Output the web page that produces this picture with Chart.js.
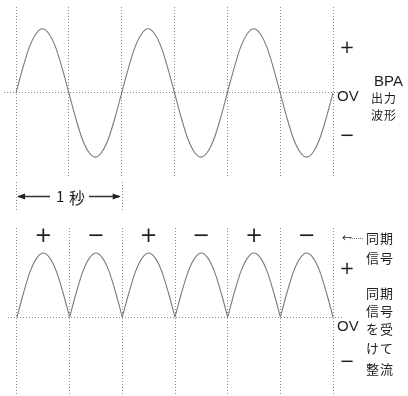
<!DOCTYPE html>
<html>
<head>
<meta charset="utf-8">
<script src="https://cdn.jsdelivr.net/npm/chart.js@4/dist/chart.umd.min.js"></script>
<style>
  html, body { margin: 0; padding: 0; background: #fff; }
  #wrap { position: relative; width: 408px; height: 396px; overflow: hidden; background: #fff; }
  canvas { position: absolute; left: 0; }
  .t { position: absolute; line-height: 1; white-space: pre; color: #1e1e1e; }
  .lat { font-family: "Liberation Sans", Arial, sans-serif; font-size: 15px; }
  .jp { font-family: "Noto Sans CJK JP", sans-serif; font-size: 12px; letter-spacing: 1px; }
  .sg { font-family: "DejaVu Sans", sans-serif; font-size: 18px; transform: translate(-50%, -50%); }
  .lead { position: absolute; left: 350px; top: 238px; width: 13px; border-top: 1px dotted #777; }
</style>
</head>
<body>
<div id="wrap">
  <canvas id="wave" width="408" height="220" style="top:0;width:408px;height:220px"></canvas>
  <canvas id="rect" width="408" height="176" style="top:220px;width:408px;height:176px"></canvas>

  <!-- BPA output waveform labels -->
  <div class="t sg" style="left:347px;top:47px">+</div>
  <div class="t lat" style="left:374px;top:73px">BPA</div>
  <div class="t lat" style="left:337px;top:88px">OV</div>
  <div class="t jp" style="left:371px;top:92px">出力</div>
  <div class="t jp" style="left:371px;top:109px">波形</div>
  <div class="t sg" style="left:347px;top:135px">−</div>

  <!-- one-second span -->
  <div class="t jp" style="left:56px;top:188px;font-size:15px">1</div>
  <div class="t jp" style="left:69px;top:189px;font-size:16px">秒</div>

  <!-- sync signal / rectified labels -->
  <div class="t jp" style="left:342px;top:233px;font-size:10px">←</div>
  <div class="lead"></div>
  <div class="t jp" style="left:366px;top:231px;font-size:13px">同期</div>
  <div class="t jp" style="left:366px;top:251px;font-size:13px">信号</div>
  <div class="t sg" style="left:347px;top:268px">+</div>
  <div class="t jp" style="left:366px;top:286px;font-size:13px">同期</div>
  <div class="t jp" style="left:366px;top:304px;font-size:13px">信号</div>
  <div class="t lat" style="left:337px;top:318px">OV</div>
  <div class="t jp" style="left:366px;top:322px;font-size:13px">を受</div>
  <div class="t jp" style="left:366px;top:341px;font-size:13px">けて</div>
  <div class="t jp" style="left:366px;top:362px;font-size:13px">整流</div>
  <div class="t sg" style="left:347px;top:361px">−</div>
</div>

<script>
// Sample times in seconds (1/16 s apart, three one-second cycles)
const times = [
  0, 0.0625, 0.125, 0.1875, 0.25, 0.3125, 0.375, 0.4375,
  0.5, 0.5625, 0.625, 0.6875, 0.75, 0.8125, 0.875, 0.9375,
  1, 1.0625, 1.125, 1.1875, 1.25, 1.3125, 1.375, 1.4375,
  1.5, 1.5625, 1.625, 1.6875, 1.75, 1.8125, 1.875, 1.9375,
  2, 2.0625, 2.125, 2.1875, 2.25, 2.3125, 2.375, 2.4375,
  2.5, 2.5625, 2.625, 2.6875, 2.75, 2.8125, 2.875, 2.9375,
  3
];

// BPA output waveform (relative amplitude)
const bpaWave = [
  0, 0.38, 0.71, 0.92, 1, 0.92, 0.71, 0.38,
  0, -0.38, -0.71, -0.92, -1, -0.92, -0.71, -0.38,
  0, 0.38, 0.71, 0.92, 1, 0.92, 0.71, 0.38,
  0, -0.38, -0.71, -0.92, -1, -0.92, -0.71, -0.38,
  0, 0.38, 0.71, 0.92, 1, 0.92, 0.71, 0.38,
  0, -0.38, -0.71, -0.92, -1, -0.92, -0.71, -0.38,
  0
];

// Waveform rectified by the sync signal
const rectifiedWave = [
  0, 0.38, 0.71, 0.92, 1, 0.92, 0.71, 0.38,
  0, 0.38, 0.71, 0.92, 1, 0.92, 0.71, 0.38,
  0, 0.38, 0.71, 0.92, 1, 0.92, 0.71, 0.38,
  0, 0.38, 0.71, 0.92, 1, 0.92, 0.71, 0.38,
  0, 0.38, 0.71, 0.92, 1, 0.92, 0.71, 0.38,
  0, 0.38, 0.71, 0.92, 1, 0.92, 0.71, 0.38,
  0
];

// Half-cycle divisions (grid) and the sync signal polarity per half-cycle
const gridTimes = [0, 0.5, 1, 1.5, 2, 2.5, 3];
const syncSigns = ['+', '−', '+', '−', '+', '−'];
const syncSignTimes = [0.25, 0.75, 1.25, 1.75, 2.25, 2.75];
const oneSecondSpan = [0, 1];

const zeroLine = [0];
const lineColor = '#7a7a7a';
const gridColor = '#8a8a8a';

function dottedScale(min, max, tickValues) {
  return {
    type: 'linear',
    min: min,
    max: max,
    afterBuildTicks(scale) { scale.ticks = tickValues.map(v => ({ value: v })); },
    ticks: { display: false },
    grid: { color: gridColor, lineWidth: 1, drawTicks: false },
    border: { display: false, dash: [1, 2] }
  };
}

function toPoints(xs, ys) { return xs.map((x, i) => ({ x: x, y: ys[i] })); }

const baseOptions = {
  responsive: false,
  animation: false,
  events: [],
  plugins: { legend: { display: false }, tooltip: { enabled: false } },
  elements: { point: { radius: 0 }, line: { borderWidth: 1.1, borderColor: lineColor } }
};

// Arrow marking one second under the top waveform
const spanPlugin = {
  id: 'oneSecond',
  afterDraw(chart) {
    const ctx = chart.ctx, xs = chart.scales.x;
    const x0 = xs.getPixelForValue(oneSecondSpan[0]);
    const x1 = xs.getPixelForValue(oneSecondSpan[1]);
    const y = 196.5;
    ctx.save();
    ctx.strokeStyle = '#333';
    ctx.fillStyle = '#222';
    ctx.lineWidth = 1.5;
    ctx.beginPath();
    ctx.moveTo(x0 + 2, y); ctx.lineTo(50, y);
    ctx.moveTo(89, y); ctx.lineTo(x1 - 2, y);
    ctx.stroke();
    ctx.beginPath();
    ctx.moveTo(x0 + 1, y); ctx.lineTo(x0 + 9, y - 3); ctx.lineTo(x0 + 9, y + 3); ctx.closePath();
    ctx.moveTo(x1 - 1, y); ctx.lineTo(x1 - 9, y - 3); ctx.lineTo(x1 - 9, y + 3); ctx.closePath();
    ctx.fill();
    ctx.strokeStyle = gridColor;
    ctx.lineWidth = 1;
    ctx.setLineDash([1, 2]);
    ctx.beginPath();
    ctx.moveTo(Math.round(x0) + 0.5, 182); ctx.lineTo(Math.round(x0) + 0.5, 212);
    ctx.moveTo(Math.round(x1) + 0.5, 182); ctx.lineTo(Math.round(x1) + 0.5, 212);
    ctx.stroke();
    ctx.restore();
  }
};

// Sync signal polarity written above each half-cycle
const signPlugin = {
  id: 'syncSigns',
  afterDraw(chart) {
    const ctx = chart.ctx, xs = chart.scales.x;
    ctx.save();
    ctx.fillStyle = '#1e1e1e';
    ctx.font = '21px "DejaVu Sans", sans-serif';
    ctx.textAlign = 'center';
    ctx.textBaseline = 'middle';
    syncSigns.forEach((s, i) => {
      ctx.fillText(s, xs.getPixelForValue(syncSignTimes[i]), 17);
    });
    ctx.restore();
  }
};

new Chart(document.getElementById('wave'), {
  type: 'line',
  data: {
    datasets: [{
      data: toPoints(times, bpaWave),
      cubicInterpolationMode: 'monotone',
      fill: false
    }]
  },
  options: Object.assign({}, baseOptions, {
    layout: { padding: { left: 4, right: 64, top: 7, bottom: 43 } },
    scales: {
      x: dottedScale(-0.114, 3.104, gridTimes),
      y: dottedScale(-1.31, 1.34, zeroLine)
    }
  }),
  plugins: [spanPlugin]
});

// One dataset per half-cycle keeps the cusps sharp at zero
const humps = syncSigns.map((s, k) => ({
  data: toPoints(times.slice(8 * k, 8 * k + 9), rectifiedWave.slice(8 * k, 8 * k + 9)),
  cubicInterpolationMode: 'monotone',
  fill: false
}));

new Chart(document.getElementById('rect'), {
  type: 'line',
  data: { datasets: humps },
  options: Object.assign({}, baseOptions, {
    layout: { padding: { left: 8, right: 66, top: 8, bottom: 0 } },
    scales: {
      x: dottedScale(-0.085, 3.085, gridTimes),
      y: dottedScale(-1.23, 1.39, zeroLine)
    }
  }),
  plugins: [signPlugin]
});
</script>
</body>
</html>
